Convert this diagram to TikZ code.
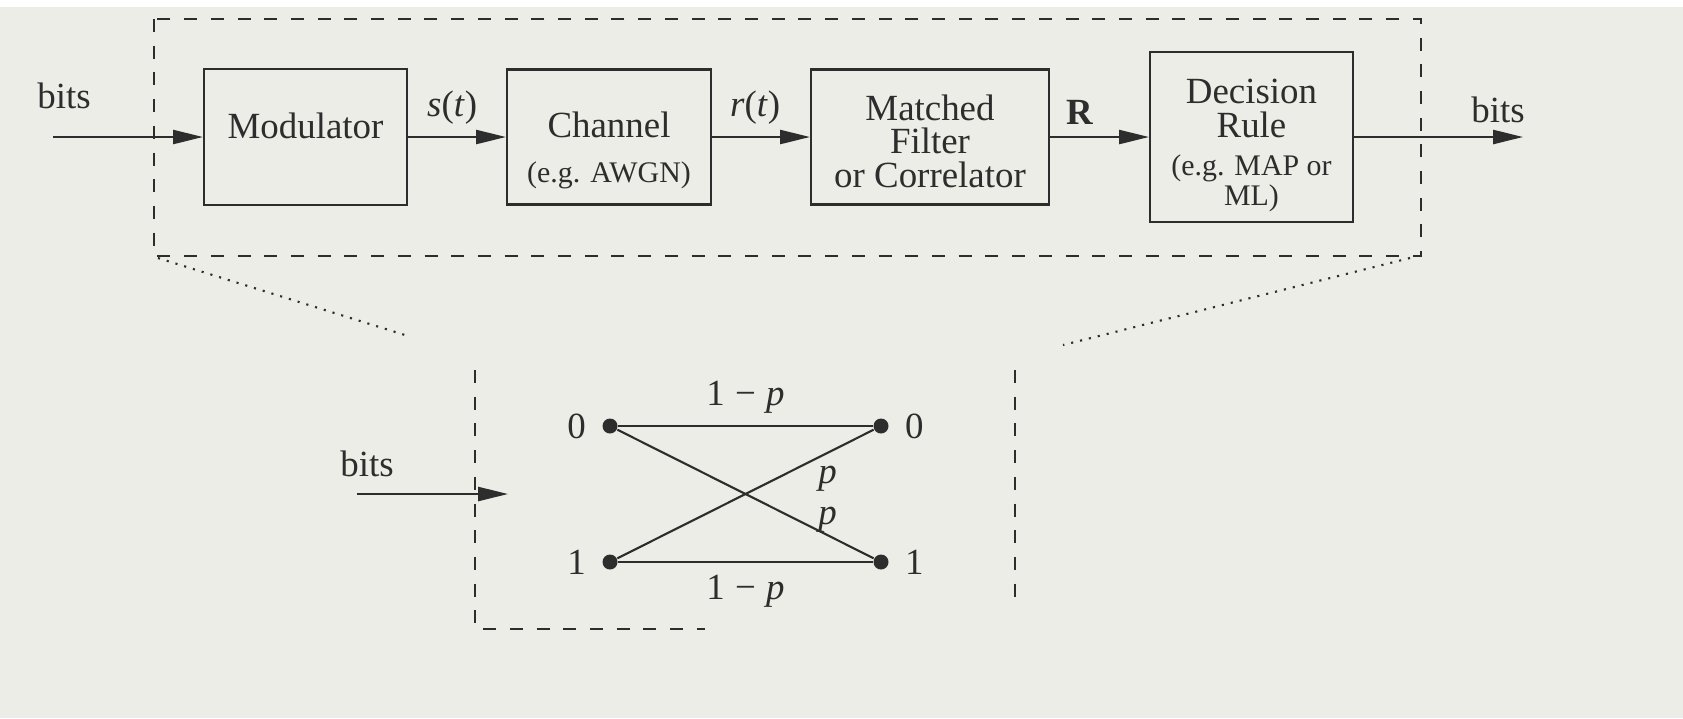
\documentclass[tikz,border=0pt]{standalone}
\usepackage{fontspec}
\setmainfont{Liberation Serif}
\usepackage{xcolor}
\usepackage{tikz}
\usetikzlibrary{positioning,shapes,arrows.meta}

\definecolor{ink}{RGB}{45,45,45}
\definecolor{paper}{RGB}{237,237,231}
\newcommand{\egtext}{\fontsize{8.5}{9}\selectfont}

\begin{document}
\begin{tikzpicture}[
  font=\fontsize{10.5}{12}\selectfont, text=ink,
  block/.style={rectangle, draw=ink, semithick, minimum height=1.36cm, align=center, inner sep=2pt, font=\fontsize{10.5}{9.5}\selectfont},
  sig/.style={-{Triangle[length=8.5pt,width=4pt]}, semithick, draw=ink},
  frame/.style={draw=ink, semithick, dash pattern=on 3.7pt off 3.9pt},
  zoomline/.style={draw=ink, semithick, dotted},
  dot/.style={circle, fill=ink, inner sep=0pt, minimum size=0.15cm},
  prob/.style={font=\fontsize{10.5}{12}\selectfont}
]
\useasboundingbox (0,0) rectangle (16.83,-7.18);
\fill[paper] (0,-0.07) rectangle (16.83,-7.18);

% Blocks
\node[block, minimum width=2.03cm, text depth=0.23cm] (mod) at (3.055,-1.37) {Modulator};
\node[block, minimum width=2.04cm, minimum height=1.35cm, text height=0.98cm] (chan) at (6.09,-1.37) {Channel\\[3.3pt]{\egtext (e.g. AWGN)}};
\node[block, minimum width=2.38cm, minimum height=1.35cm, text height=1.01cm] (mf) at (9.30,-1.37) {Matched\\Filter\\or Correlator};
\node[block, minimum width=2.03cm, minimum height=1.70cm, text height=1.43cm, font=\fontsize{10.5}{9.9}\selectfont] (dec) at (12.515,-1.37) {Decision\\[0pt]Rule\\[0.8pt]{\egtext (e.g. MAP or}\\[-1.4pt]{\egtext ML)}};

% Input / output
\coordinate (src) at (0.53,-1.37);
\coordinate (snk) at (15.23,-1.37);
\node (bitsA) at (0.64,-0.96) {bits};
\node (bitsB) at (14.98,-1.10) {bits};

% Signal path
\draw[sig] (src) -- (mod);
\draw[sig] (mod) -- (chan) node[pos=0.45, above]{\textit{s}(\textit{t})};
\draw[sig] (chan) -- (mf) node[pos=0.44, above]{\textit{r}(\textit{t})};
\draw[sig] (mf) -- (dec) node[pos=0.3, above]{\textbf{R}};
\draw[sig] (dec) -- (snk);

% Dashed frame round the chain
\draw[frame] (1.54,-0.19) rectangle (14.21,-2.56);

% Zoom lines
\draw[zoomline] (1.58,-2.58) -- (4.05,-3.35);
\draw[zoomline] (14.10,-2.58) -- (10.63,-3.45);

% Equivalent binary channel
\draw[frame] (4.75,-3.70) -- (4.75,-6.29) -- (7.05,-6.29);
\draw[frame] (10.15,-3.70) -- (10.15,-6.03);

\coordinate (bsrc) at (3.57,-4.94);
\coordinate (bsnk) at (5.08,-4.94);
\node (bitsC) at (3.67,-4.64) {bits};
\draw[sig] (bsrc) -- (bsnk);

\node[dot, label={[label distance=1pt]left:0}] (in0) at (6.10,-4.26) {};
\node[dot, label={[label distance=1pt]left:1}] (in1) at (6.10,-5.62) {};
\node[dot, label={[label distance=1pt]right:0}] (out0) at (8.81,-4.26) {};
\node[dot, label={[label distance=1pt]right:1}] (out1) at (8.81,-5.62) {};

\draw[ink, semithick] (in0) -- (out0) node[prob, midway, above]{1\hspace{0.28em}−\hspace{0.28em}\textit{p}};
\draw[ink, semithick] (in1) -- (out1) node[prob, midway, below]{1\hspace{0.28em}−\hspace{0.28em}\textit{p}};
\draw[ink, semithick] (in1) -- (out0) node[prob, pos=0.82, below]{\textit{p}};
\draw[ink, semithick] (in0) -- (out1) node[prob, pos=0.82, above, inner sep=0.5pt]{\textit{p}};

\end{tikzpicture}
\end{document}
